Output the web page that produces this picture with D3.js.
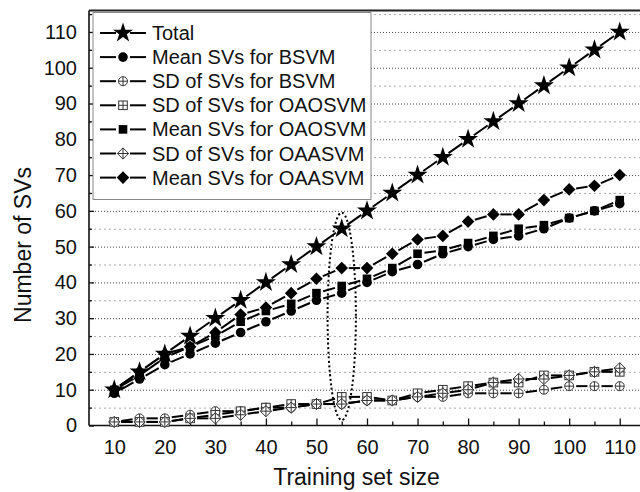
<!DOCTYPE html>
<html>
  <head>
    <meta charset='utf-8' />
    <title>Number of SVs vs training set size</title>
    <script src="https://d3js.org/d3.v7.min.js"></script>
    <style>
body {
  margin: 0;
  background: #fff;
  font-family: "Liberation Sans", Arial, sans-serif;
}
.axis path { display: none; }
.axis line { stroke: #111; stroke-width: 1.3px; }
.axis text { font-size: 20px; fill: #111; font-family: "Liberation Sans", Arial, sans-serif; }
.grid-major line { stroke: #444; stroke-width: 1px; stroke-dasharray: 1,2; }
.grid-minor line { stroke: #aaa; stroke-width: 1px; stroke-dasharray: 2,3; }
.grid path { display: none; }
    </style>
  </head>
  <body>
    <div id="graphic"></div>
    <script>
      // data
      const trainingSize = [10, 15, 20, 25, 30, 35, 40, 45, 50, 55, 60, 65, 70, 75, 80, 85, 90, 95, 100, 105, 110];
      const total       = [10, 15, 20, 25, 30, 35, 40, 45, 50, 55, 60, 65, 70, 75, 80, 85, 90, 95, 100, 105, 110];
      const meanBSVM    = [9, 13, 17, 20, 23, 26, 29, 32, 35, 37, 40, 43, 45, 48, 50, 52, 53, 55, 58, 60, 62];
      const sdBSVM      = [1, 2, 2, 3, 4, 4, 5, 5, 6, 6, 7, 7, 8, 8, 9, 9, 9, 10, 11, 11, 11];
      const sdOAOSVM    = [1, 1, 1, 2, 3, 4, 5, 6, 6, 8, 8, 7, 9, 10, 11, 12, 12, 14, 14, 15, 15];
      const meanOAOSVM  = [10, 14, 19, 22, 25, 29, 32, 34, 37, 39, 41, 44, 48, 49, 51, 53, 55, 56, 58, 60, 63];
      const sdOAASVM    = [1, 1, 1, 2, 2, 3, 4, 5, 6, 6, 7, 7, 8, 9, 10, 12, 13, 13, 14, 15, 16];
      const meanOAASVM  = [10, 15, 20, 22, 26, 31, 33, 37, 41, 44, 44, 48, 52, 53, 57, 59, 59, 63, 66, 67, 70];

      const seriesNames = ["Total", "Mean SVs for BSVM", "SD of SVs for BSVM", "SD of SVs for OAOSVM",
                           "Mean SVs for OAOSVM", "SD of SVs for OAASVM", "Mean SVs for OAASVM"];
      const seriesValues = [total, meanBSVM, sdBSVM, sdOAOSVM, meanOAOSVM, sdOAASVM, meanOAASVM];
      const seriesMarkers = ["star", "circle", "circlePlus", "squarePlus", "square", "diamondPlus", "diamond"];

      const xTicks = [10, 20, 30, 40, 50, 60, 70, 80, 90, 100, 110];
      const yTicks = [0, 10, 20, 30, 40, 50, 60, 70, 80, 90, 100, 110];

      const W = 640, H = 492;
      const plotLeft = 89, plotTop = 10.5, plotBottom = 425.5, plotRight = 645;

      const svg = d3.select("#graphic").append("svg")
        .attr("width", W)
        .attr("height", H);

      const x = d3.scaleLinear().domain([5, 115]).range([plotLeft, plotRight]);
      const y = d3.scaleLinear().domain([0, 116]).range([plotBottom, plotTop]);

      const minorY = d3.range(5, 116, 10);
      const minorX = d3.range(15, 111, 10);

      // gridlines
      svg.append("g").attr("class", "grid grid-minor")
        .attr("transform", "translate(" + plotLeft + ",0)")
        .call(d3.axisLeft(y).tickValues(minorY).tickSize(-(W - plotLeft)).tickFormat(""));
      svg.append("g").attr("class", "grid grid-major")
        .attr("transform", "translate(" + plotLeft + ",0)")
        .call(d3.axisLeft(y).tickValues(yTicks.filter(d => d > 0)).tickSize(-(W - plotLeft)).tickFormat(""));

      // axes, ticks point inward
      svg.append("g").attr("class", "axis")
        .attr("transform", "translate(" + plotLeft + ",0)")
        .call(d3.axisLeft(y).tickValues(yTicks).tickSize(-5).tickPadding(12));
      svg.append("g").attr("class", "axis")
        .attr("transform", "translate(" + plotLeft + ",0)")
        .call(d3.axisLeft(y).tickValues(minorY).tickSize(-3).tickFormat(""));
      svg.append("g").attr("class", "axis")
        .attr("transform", "translate(0," + plotBottom + ")")
        .call(d3.axisBottom(x).tickValues(xTicks).tickSize(-7).tickPadding(14));
      svg.append("g").attr("class", "axis")
        .attr("transform", "translate(0," + plotBottom + ")")
        .call(d3.axisBottom(x).tickValues(minorX).tickSize(-4).tickFormat(""));

      // frame
      svg.append("line").attr("x1", plotLeft).attr("x2", W).attr("y1", plotTop).attr("y2", plotTop)
        .attr("stroke", "#222").attr("stroke-width", 2);
      svg.append("line").attr("x1", plotLeft).attr("x2", plotLeft).attr("y1", plotTop).attr("y2", plotBottom)
        .attr("stroke", "#111").attr("stroke-width", 1.6);
      svg.append("line").attr("x1", plotLeft).attr("x2", W).attr("y1", plotBottom).attr("y2", plotBottom)
        .attr("stroke", "#111").attr("stroke-width", 1.6);

      // axis titles
      svg.append("text")
        .attr("x", (plotLeft + W) / 2 - 8).attr("y", 485)
        .attr("text-anchor", "middle")
        .style("font-size", "23px").style("fill", "#111")
        .text("Training set size");
      svg.append("text")
        .attr("transform", "translate(31,245) rotate(-90)")
        .attr("text-anchor", "middle")
        .style("font-size", "23px").style("fill", "#111")
        .text("Number of SVs");

      // marker drawing
      function drawMarker(g, type, cx, cy) {
        const m = g.append("g").attr("transform", "translate(" + cx + "," + cy + ")");
        const open = {fill: "#fff", stroke: "#333", sw: 1};
        if (type === "star") {
          m.append("path").attr("d", d3.symbol(d3.symbolStar, 125)()).attr("fill", "#000");
        } else if (type === "circle") {
          m.append("circle").attr("r", 4.8).attr("fill", "#000");
        } else if (type === "square") {
          m.append("rect").attr("x", -4.3).attr("y", -4.3).attr("width", 8.6).attr("height", 8.6).attr("fill", "#000");
        } else if (type === "diamond") {
          m.append("path").attr("d", "M0,-6.3L6.3,0L0,6.3L-6.3,0Z").attr("fill", "#000");
        } else {
          if (type === "circlePlus") {
            m.append("circle").attr("r", 4.5);
          } else if (type === "squarePlus") {
            m.append("rect").attr("x", -4.3).attr("y", -4.3).attr("width", 8.6).attr("height", 8.6);
          } else {
            m.append("path").attr("d", "M0,-5.6L5.6,0L0,5.6L-5.6,0Z");
          }
          m.selectAll("circle,rect,path").attr("fill", open.fill).attr("stroke", open.stroke).attr("stroke-width", open.sw);
          const s = type === "diamondPlus" ? 5.6 : 4.4;
          m.append("path").attr("d", "M" + (-s) + ",0H" + s + "M0," + (-s) + "V" + s)
            .attr("stroke", open.stroke).attr("stroke-width", open.sw);
        }
      }

      // line segments with a small gap at each marker
      function gapSegment(g, x1, y1, x2, y2, gap) {
        const dx = x2 - x1, dy = y2 - y1;
        const len = Math.sqrt(dx * dx + dy * dy);
        if (len <= 2 * gap) return;
        const ux = dx / len, uy = dy / len;
        g.append("line")
          .attr("x1", x1 + ux * gap).attr("y1", y1 + uy * gap)
          .attr("x2", x2 - ux * gap).attr("y2", y2 - uy * gap)
          .attr("stroke", "#000").attr("stroke-width", 2);
      }

      const lines = svg.append("g");
      const markers = svg.append("g");
      seriesValues.forEach((vals, si) => {
        const pts = trainingSize.map((t, i) => [x(t), y(vals[i])]);
        for (let i = 1; i < pts.length; i++) {
          gapSegment(lines, pts[i - 1][0], pts[i - 1][1], pts[i][0], pts[i][1], 7);
        }
        pts.forEach(p => drawMarker(markers, seriesMarkers[si], p[0], p[1]));
      });

      // dotted ellipse around training size 55
      svg.append("ellipse")
        .attr("cx", x(55)).attr("cy", y(30.5))
        .attr("rx", x(57.8) - x(55)).attr("ry", y(1.5) - y(30.5))
        .attr("fill", "none").attr("stroke", "#000")
        .attr("stroke-width", 2).attr("stroke-dasharray", "2,2.5");

      // legend
      const legend = svg.append("g");
      legend.append("rect")
        .attr("x", 93).attr("y", 12.5).attr("width", 278).attr("height", 187)
        .attr("fill", "#fff").attr("stroke", "#888").attr("stroke-width", 1);
      seriesNames.forEach((name, i) => {
        const ly = 33 + i * 24.1;
        legend.append("line").attr("x1", 100).attr("x2", 116).attr("y1", ly).attr("y2", ly)
          .attr("stroke", "#000").attr("stroke-width", 2);
        legend.append("line").attr("x1", 130).attr("x2", 146).attr("y1", ly).attr("y2", ly)
          .attr("stroke", "#000").attr("stroke-width", 2);
        drawMarker(legend, seriesMarkers[i], 123, ly);
        legend.append("text")
          .attr("x", 152).attr("y", ly + 7)
          .style("font-size", "20px").style("fill", "#111")
          .text(name);
      });
    </script>
  </body>
</html>
